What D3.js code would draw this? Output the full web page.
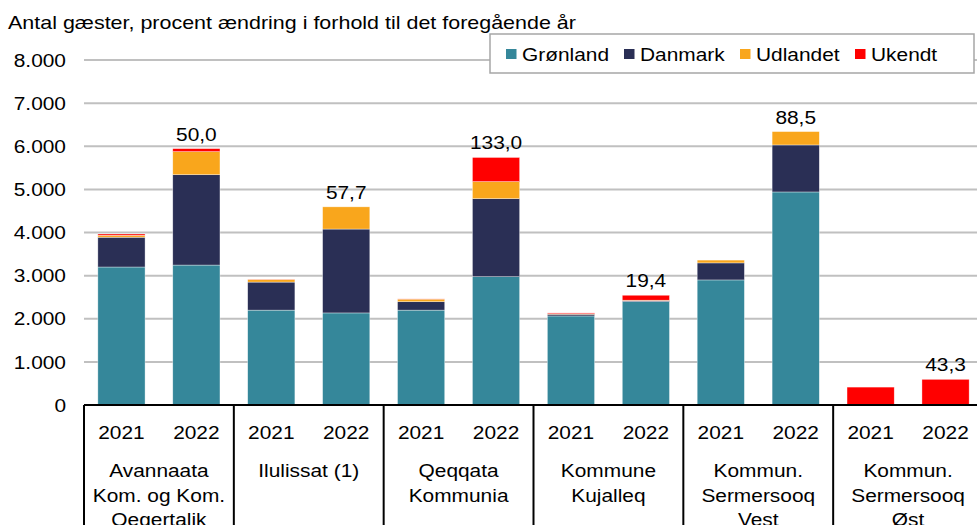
<!DOCTYPE html>
<html>
<head>
<meta charset="utf-8">
<script src="https://cdn.jsdelivr.net/npm/d3@7"></script>
<style>
  body { margin: 0; background: #fff; }
  text { font-family: "Liberation Sans", Arial, sans-serif; fill: #000; }
</style>
</head>
<body>
<svg id="chart" width="977" height="525"></svg>
<script>
const groups = ["Avannaata Kom. og Kom. Qeqertalik", "Ilulissat (1)", "Qeqqata Kommunia",
  "Kommune Kujalleq", "Kommun. Sermersooq Vest", "Kommun. Sermersooq Øst"];
const groupLines = [["Avannaata", "Kom. og Kom.", "Qeqertalik"], ["Ilulissat (1)"], ["Qeqqata", "Kommunia"],
  ["Kommune", "Kujalleq"], ["Kommun.", "Sermersooq", "Vest"], ["Kommun.", "Sermersooq", "Øst"]];
const years = ["2021", "2022"];
const series = ["Grønland", "Danmark", "Udlandet", "Ukendt"];
const colors = ["#35879a", "#2a2f55", "#f9a61c", "#ff0000"];

// one value per bar: group order, 2021 then 2022
const gronland = [3200, 3245, 2200, 2135, 2200, 2975, 2065, 2400, 2900, 4940, 0, 0];
const danmark  = [690, 2095, 650, 1945, 195, 1810, 40, 20, 395, 1090, 0, 0];
const udlandet = [45, 535, 60, 515, 60, 395, 10, 10, 65, 310, 0, 0];
const ukendt   = [30, 70, 5, 0, 5, 560, 20, 115, 0, 0, 415, 595];
const changeLabels = ["50,0", "57,7", "133,0", "19,4", "88,5", "43,3"];

const yTicks = [0, 1000, 2000, 3000, 4000, 5000, 6000, 7000, 8000];

const fs = 18.5;
const sx = 1.13; // reference text is slightly stretched horizontally
const svg = d3.select("#chart");

const rows = [];
groups.forEach((g, gi) => years.forEach((yr, yi) => {
  const i = gi * 2 + yi;
  rows.push({ group: g, year: yr,
    "Grønland": gronland[i], "Danmark": danmark[i], "Udlandet": udlandet[i], "Ukendt": ukendt[i] });
}));

const plotLeft = 84, plotRight = 983, plotTop = 60, plotBottom = 405;

const xg = d3.scaleBand().domain(groups).range([plotLeft, plotRight]);
const xb = d3.scaleBand().domain(years).range([0, xg.bandwidth()]).paddingInner(0.37).paddingOuter(0.185);
const y = d3.scaleLinear().domain([0, 8000]).range([plotBottom, plotTop]);

const loc = d3.formatLocale({ decimal: ",", thousands: ".", grouping: [3], currency: ["", ""] });
const fmt = loc.format(",");

function stretchText(sel, x, yy) {
  return sel.attr("transform", `translate(${x},${yy}) scale(${sx},1)`);
}

// grid lines
svg.append("g")
  .selectAll("line")
  .data(yTicks.filter(d => d > 0))
  .join("line")
  .attr("x1", plotLeft).attr("x2", plotRight)
  .attr("y1", d => y(d)).attr("y2", d => y(d))
  .attr("stroke", "#c0c0c0")
  .attr("stroke-width", 2);

// y tick labels
svg.append("g")
  .attr("font-size", fs)
  .attr("text-anchor", "end")
  .selectAll("text")
  .data(yTicks)
  .join("text")
  .each(function (d) { stretchText(d3.select(this), 66, y(d) + 6.7); })
  .text(d => fmt(d));

// stacked bars
const stack = d3.stack().keys(series)(rows);
svg.append("g")
  .selectAll("g")
  .data(stack)
  .join("g")
  .attr("fill", (d, i) => colors[i])
  .selectAll("rect")
  .data(d => d.filter(s => s[1] - s[0] > 0))
  .join("rect")
  .attr("x", d => xg(d.data.group) + xb(d.data.year))
  .attr("width", xb.bandwidth())
  .attr("y", d => y(d[1]))
  .attr("height", d => y(d[0]) - y(d[1]))
  .attr("stroke", "#ffffff")
  .attr("stroke-opacity", 0.6)
  .attr("stroke-width", 0.6);

// percent change labels above 2022 bars
const totals = rows.map(r => d3.sum(series, s => r[s]));
svg.append("g")
  .attr("font-size", fs)
  .attr("text-anchor", "middle")
  .selectAll("text")
  .data(groups)
  .join("text")
  .each(function (g, gi) {
    stretchText(d3.select(this), xg(g) + xb("2022") + xb.bandwidth() / 2, y(totals[gi * 2 + 1]) - 8);
  })
  .text((g, gi) => changeLabels[gi]);

// x axis line and group dividers
svg.append("line")
  .attr("x1", plotLeft).attr("x2", plotRight)
  .attr("y1", plotBottom).attr("y2", plotBottom)
  .attr("stroke", "#000").attr("stroke-width", 2);

svg.append("g")
  .selectAll("line")
  .data(groups.map(g => xg(g)).concat([plotRight]))
  .join("line")
  .attr("x1", d => d).attr("x2", d => d)
  .attr("y1", plotBottom).attr("y2", 530)
  .attr("stroke", "#000").attr("stroke-width", 2);

// year labels
svg.append("g")
  .attr("font-size", fs)
  .attr("text-anchor", "middle")
  .selectAll("text")
  .data(rows)
  .join("text")
  .each(function (d) { stretchText(d3.select(this), xg(d.group) + xb(d.year) + xb.bandwidth() / 2, 439); })
  .text(d => d.year);

// group labels
svg.append("g")
  .attr("font-size", fs)
  .attr("text-anchor", "middle")
  .selectAll("g")
  .data(groups)
  .join("g")
  .each(function (g, gi) {
    d3.select(this).selectAll("text")
      .data(groupLines[gi])
      .join("text")
      .each(function (line, li) { stretchText(d3.select(this), xg(g) + xg.bandwidth() / 2, 477 + li * 24.5); })
      .text(line => line);
  });

// title
stretchText(svg.append("text"), 8, 28.5)
  .attr("font-size", 19)
  .text("Antal gæster, procent ændring i forhold til det foregående år");

// legend
const legend = svg.append("g");
legend.append("rect")
  .attr("x", 490).attr("y", 34).attr("width", 484).attr("height", 39)
  .attr("fill", "#fff").attr("stroke", "#a6a6a6").attr("stroke-width", 1.5);
const legendX = [506, 624, 740, 855];
series.forEach((s, i) => {
  legend.append("rect")
    .attr("x", legendX[i]).attr("y", 49)
    .attr("width", 10.5).attr("height", 10)
    .attr("fill", colors[i]);
  stretchText(legend.append("text"), legendX[i] + 16, 60.5)
    .attr("font-size", fs)
    .text(s);
});
</script>
</body>
</html>
